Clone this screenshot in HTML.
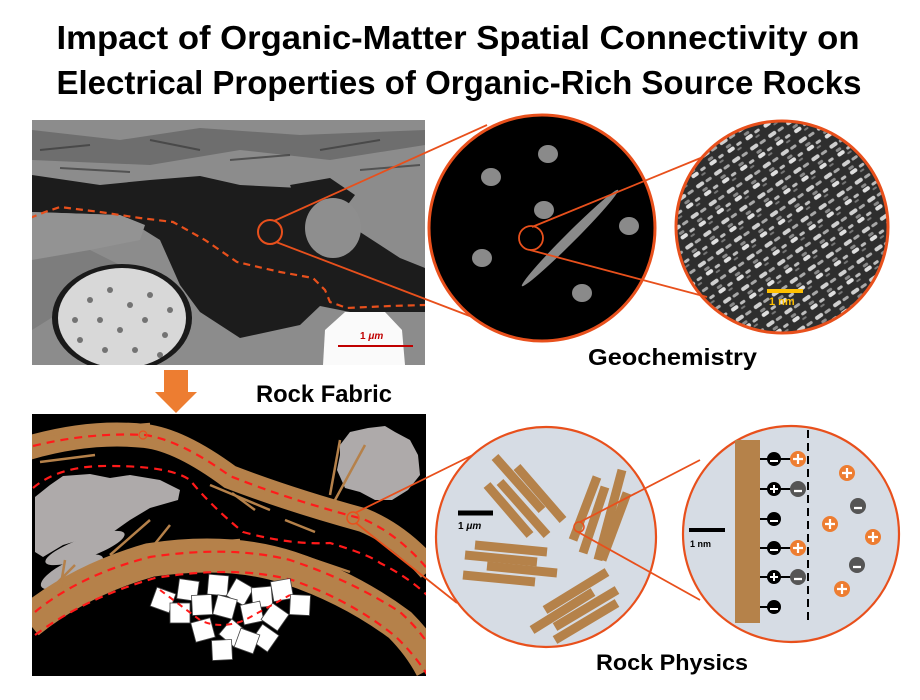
<!DOCTYPE html>
<html><head><meta charset="utf-8"><style>
html,body{margin:0;padding:0;background:#fff;width:920px;height:700px;overflow:hidden}
svg{display:block}
text{font-family:"Liberation Sans",sans-serif;font-weight:bold}
</style></head><body>
<svg width="920" height="700" viewBox="0 0 920 700" xmlns="http://www.w3.org/2000/svg">
<defs>
<pattern id="tem" width="22" height="22" patternUnits="userSpaceOnUse" patternTransform="rotate(-35)">
<rect width="22" height="22" fill="#2e2e2e"/>
<rect x="1" y="1" width="9" height="4" rx="2" fill="#d0d0d0"/>
<rect x="12" y="2" width="7" height="3" rx="1.5" fill="#a8a8a8"/>
<rect x="4" y="8" width="6" height="3" rx="1.5" fill="#8a8a8a"/>
<rect x="3" y="12" width="8" height="4" rx="2" fill="#e0e0e0"/>
<rect x="14" y="12" width="6" height="3" rx="1.5" fill="#bdbdbd"/>
<rect x="12" y="17" width="5" height="2" rx="1" fill="#777"/>
</pattern>
<clipPath id="c2"><circle cx="782" cy="227" r="106"/></clipPath>
<clipPath id="sem"><rect x="32" y="120" width="393" height="245"/></clipPath>
<clipPath id="bp"><rect x="32" y="414" width="394" height="262"/></clipPath>
</defs>

<text x="458" y="49" font-size="33" text-anchor="middle" textLength="803" lengthAdjust="spacingAndGlyphs">Impact of Organic-Matter Spatial Connectivity on</text>
<text x="459" y="94" font-size="33" text-anchor="middle" textLength="805" lengthAdjust="spacingAndGlyphs">Electrical Properties of Organic-Rich Source Rocks</text>

<g clip-path="url(#sem)">
<rect x="32" y="120" width="393" height="245" fill="#8c8c8c"/>
<path d="M32,130 L120,140 L200,128 L300,135 L425,130 L425,145 L330,160 L240,150 L150,165 L32,160Z" fill="#5a5a5a" opacity="0.6"/>
<g stroke="#3a3a3a" stroke-width="2" opacity="0.7">
<line x1="40" y1="150" x2="90" y2="145"/><line x1="150" y1="140" x2="200" y2="150"/><line x1="230" y1="160" x2="290" y2="155"/><line x1="320" y1="150" x2="380" y2="140"/><line x1="360" y1="170" x2="420" y2="165"/><line x1="60" y1="168" x2="130" y2="172"/>
</g>
<path d="M32,175 L100,185 L150,180 L200,176 L240,185 L300,188 L330,200 L360,232 L400,258 L425,268 L425,312 L350,312 L320,306 L300,325 L240,338 L200,312 L180,285 L160,240 L120,215 L32,212Z" fill="#1c1c1c"/>
<path d="M290,185 L330,178 L355,195 L340,215 L300,210Z" fill="#1c1c1c"/>
<ellipse cx="333" cy="228" rx="28" ry="30" fill="#8e8e8e"/>
<path d="M32,212 L120,215 L145,225 L140,240 L90,250 L32,260Z" fill="#939393"/>
<path d="M32,260 L90,250 L120,265 L80,300 L32,330Z" fill="#7d7d7d"/>
<ellipse cx="122" cy="318" rx="70" ry="54" fill="#1a1a1a"/>
<ellipse cx="122" cy="318" rx="64" ry="50" fill="#d8d8d8"/>
<g fill="#222" opacity="0.55">
<circle cx="90" cy="300" r="3"/><circle cx="110" cy="290" r="3"/><circle cx="130" cy="305" r="3"/><circle cx="150" cy="295" r="3"/><circle cx="100" cy="320" r="3"/><circle cx="120" cy="330" r="3"/><circle cx="145" cy="320" r="3"/><circle cx="165" cy="335" r="3"/><circle cx="80" cy="340" r="3"/><circle cx="105" cy="350" r="3"/><circle cx="135" cy="350" r="3"/><circle cx="160" cy="355" r="3"/><circle cx="75" cy="320" r="3"/><circle cx="170" cy="310" r="3"/>
</g>
<path d="M323,365 L325,330 L345,312 L385,312 L402,330 L405,365Z" fill="#fafafa"/>
<path d="M30,218 L45,212 L60,207 L100,212 L140,218 L173,222 L205,240 L237,262 L280,272 L313,278 L325,290 L330,302 L347,308 L390,306 L425,305" fill="none" stroke="#e8501c" stroke-width="2.2" stroke-dasharray="7,5"/>
<line x1="338" y1="346" x2="413" y2="346" stroke="#c00000" stroke-width="2"/>
<text x="360" y="339" font-size="10" fill="#c00000">1 <tspan font-style="italic">μm</tspan></text>
</g>

<path d="M164,370 L188,370 L188,392 L197,392 L176,413 L155,392 L164,392Z" fill="#ed7d31"/>
<text x="256" y="402" font-size="24" textLength="136" lengthAdjust="spacingAndGlyphs">Rock Fabric</text>

<g clip-path="url(#bp)">
<rect x="32" y="414" width="394" height="262" fill="#000"/>
<path d="M35,497 L50,485 L63,476 L90,474 L110,478 L130,475 L160,480 L180,490 L178,500 L150,508 L130,520 L113,532 L80,540 L63,545 L43,557 L35,552Z" fill="#aeaaaa"/>
<ellipse cx="85" cy="548" rx="42" ry="10" transform="rotate(-20 85 548)" fill="#aeaaaa"/>
<ellipse cx="72" cy="572" rx="34" ry="11" transform="rotate(-25 72 572)" fill="#aeaaaa"/>
<path d="M340,445 L350,432 L368,428 L385,426 L395,432 L410,440 L418,455 L420,475 L408,490 L392,500 L375,500 L360,492 L345,488 L337,470 L340,455Z" fill="#aeaaaa"/>
<path d="M28,448 Q90,430 145,436 Q180,440 230,477 Q290,500 363,520 Q400,535 430,570" fill="none" stroke="#b5814a" stroke-width="24"/>
<path d="M28,622 Q80,580 150,560 Q230,548 290,568 Q350,588 400,625 Q420,645 432,668" fill="none" stroke="#b5814a" stroke-width="34"/>
<g stroke="#b5814a" stroke-width="2.5">
<line x1="330" y1="495" x2="340" y2="440"/><line x1="335" y1="500" x2="365" y2="445"/><line x1="210" y1="485" x2="270" y2="510"/><line x1="232" y1="493" x2="255" y2="510"/><line x1="285" y1="520" x2="315" y2="532"/>
<line x1="110" y1="555" x2="150" y2="520"/><line x1="120" y1="560" x2="145" y2="545"/><line x1="150" y1="550" x2="170" y2="525"/><line x1="40" y1="600" x2="75" y2="565"/><line x1="60" y1="590" x2="65" y2="560"/>
<line x1="40" y1="436" x2="90" y2="430"/><line x1="100" y1="428" x2="150" y2="424"/><line x1="40" y1="462" x2="95" y2="455"/><line x1="180" y1="545" x2="240" y2="540"/><line x1="300" y1="555" x2="350" y2="572"/>
</g>
<path d="M33,446 Q90,432 145,435 Q180,440 230,476 Q290,500 363,519 Q400,535 430,572" fill="none" stroke="#ff1a1a" stroke-width="2.2" stroke-dasharray="8,6"/>
<path d="M33,488 Q60,465 110,466 Q170,466 190,480 Q210,505 243,532 Q290,545 330,543 Q370,555 380,563 Q410,578 430,598" fill="none" stroke="#ff1a1a" stroke-width="2.2" stroke-dasharray="8,6"/>
<path d="M35,612 Q80,575 150,557 Q230,545 290,560 Q350,580 400,612 Q420,630 432,650" fill="none" stroke="#ff1a1a" stroke-width="2.2" stroke-dasharray="8,6"/>
<path d="M35,635 Q85,598 155,578 Q235,565 292,580 Q350,600 395,636 Q415,655 428,676" fill="none" stroke="#ff1a1a" stroke-width="2.2" stroke-dasharray="8,6"/>
<g fill="#fff" stroke="#444" stroke-width="0.8">
<rect x="153" y="590" width="20" height="20" transform="rotate(20 163 600)"/>
<rect x="178" y="580" width="20" height="20" transform="rotate(8 188 590)"/>
<rect x="208" y="575" width="20" height="20" transform="rotate(5 218 585)"/>
<rect x="230" y="582" width="20" height="20" transform="rotate(30 240 592)"/>
<rect x="252" y="587" width="20" height="20" transform="rotate(-5 262 597)"/>
<rect x="272" y="580" width="20" height="20" transform="rotate(-10 282 590)"/>
<rect x="290" y="595" width="20" height="20" transform="rotate(3 300 605)"/>
<rect x="170" y="603" width="20" height="20"/>
<rect x="192" y="595" width="20" height="20" transform="rotate(-3 202 605)"/>
<rect x="215" y="597" width="20" height="20" transform="rotate(15 225 607)"/>
<rect x="242" y="603" width="20" height="20" transform="rotate(-12 252 613)"/>
<rect x="265" y="607" width="20" height="20" transform="rotate(35 275 617)"/>
<rect x="193" y="620" width="20" height="20" transform="rotate(-15 203 630)"/>
<rect x="223" y="623" width="20" height="20" transform="rotate(40 233 633)"/>
<rect x="255" y="628" width="20" height="20" transform="rotate(35 265 638)"/>
<rect x="237" y="631" width="20" height="20" transform="rotate(20 247 641)"/>
<rect x="212" y="640" width="20" height="20" transform="rotate(-3 222 650)"/>
</g>
<path d="M160,590 L200,620 Q220,630 245,620 L290,595" fill="none" stroke="#ff1a1a" stroke-width="2" stroke-dasharray="6,5"/>
</g>

<g stroke="#e8501c" stroke-width="1.8" fill="none">
<line x1="274" y1="221" x2="487" y2="125"/>
<line x1="276" y1="242" x2="488" y2="323"/>
<line x1="355" y1="513" x2="483" y2="450"/>
<line x1="356" y1="523" x2="457" y2="603"/>
</g>
<circle cx="270" cy="232" r="12" fill="none" stroke="#e8501c" stroke-width="2"/>
<circle cx="353" cy="518" r="6" fill="none" stroke="#e8501c" stroke-width="1.5"/>
<circle cx="143" cy="435" r="4" fill="none" stroke="#e8501c" stroke-width="1.2"/>

<circle cx="542" cy="228" r="113" fill="#000" stroke="#e8501c" stroke-width="3"/>
<g fill="#8a8a8a">
<ellipse cx="548" cy="154" rx="10" ry="9"/><ellipse cx="491" cy="177" rx="10" ry="9"/><ellipse cx="544" cy="210" rx="10" ry="9"/><ellipse cx="629" cy="226" rx="10" ry="9"/><ellipse cx="482" cy="258" rx="10" ry="9"/><ellipse cx="582" cy="293" rx="10" ry="9"/>
<ellipse cx="570" cy="238" rx="68" ry="5" transform="rotate(-45 570 238)"/>
</g>
<circle cx="782" cy="227" r="106" fill="#555"/>
<g clip-path="url(#c2)">
<rect x="670" y="115" width="230" height="230" fill="url(#tem)"/>
<rect x="767" y="289" width="36" height="4" fill="#ffc000"/>
<text x="769" y="305" font-size="11" fill="#ffc000" font-weight="normal">1 nm</text>
</g>
<circle cx="782" cy="227" r="106" fill="none" stroke="#e8501c" stroke-width="3"/>
<g stroke="#e8501c" stroke-width="1.8">
<line x1="532" y1="227" x2="703" y2="157"/>
<line x1="530" y1="250" x2="707" y2="297"/>
</g>
<circle cx="531" cy="238" r="12" fill="none" stroke="#e8501c" stroke-width="1.8"/>
<text x="588" y="365" font-size="23" textLength="169" lengthAdjust="spacingAndGlyphs">Geochemistry</text>

<circle cx="546" cy="537" r="110" fill="#d6dce4" stroke="#e8501c" stroke-width="2.2"/>
<g stroke="#b5824a" stroke-width="9">
<line x1="495" y1="457" x2="542" y2="510"/><line x1="517" y1="467" x2="563" y2="520"/><line x1="500" y1="482" x2="547" y2="535"/><line x1="487" y1="485" x2="530" y2="535"/>
<line x1="597" y1="477" x2="573" y2="540"/><line x1="622" y1="470" x2="598" y2="560"/><line x1="605" y1="487" x2="583" y2="553"/><line x1="627" y1="493" x2="602" y2="560"/>
<line x1="475" y1="545" x2="547" y2="552"/><line x1="465" y1="555" x2="537" y2="562"/><line x1="487" y1="566" x2="557" y2="573"/><line x1="463" y1="575" x2="535" y2="582"/>
<line x1="545" y1="610" x2="607" y2="572"/><line x1="532" y1="630" x2="593" y2="592"/><line x1="555" y1="627" x2="617" y2="590"/><line x1="555" y1="640" x2="617" y2="603"/>
</g>
<line x1="458" y1="513" x2="493" y2="513" stroke="#000" stroke-width="5"/>
<text x="458" y="529" font-size="10" fill="#000" font-weight="normal">1 <tspan font-style="italic">μm</tspan></text>

<circle cx="791" cy="534" r="108" fill="#d6dce4" stroke="#e8501c" stroke-width="2.2"/>
<g stroke="#e8501c" stroke-width="1.8">
<line x1="580" y1="522" x2="700" y2="460"/>
<line x1="578" y1="532" x2="700" y2="600"/>
</g>
<circle cx="579" cy="527" r="5" fill="none" stroke="#e8501c" stroke-width="1.5"/>
<rect x="735" y="440" width="25" height="183" fill="#b5824a"/>
<line x1="808" y1="430" x2="808" y2="623" stroke="#000" stroke-width="2" stroke-dasharray="8,5"/>
<line x1="689" y1="530" x2="725" y2="530" stroke="#000" stroke-width="4"/>
<text x="690" y="547" font-size="9" fill="#000">1 nm</text>
<g stroke="#000" stroke-width="2">
<line x1="760" y1="459" x2="798" y2="459"/><line x1="760" y1="489" x2="798" y2="489"/><line x1="760" y1="519" x2="774" y2="519"/><line x1="760" y1="548" x2="798" y2="548"/><line x1="760" y1="577" x2="798" y2="577"/><line x1="760" y1="607" x2="774" y2="607"/>
</g>
<g fill="#000"><circle cx="774" cy="459" r="7"/><circle cx="774" cy="489" r="7"/><circle cx="774" cy="519" r="7"/><circle cx="774" cy="548" r="7"/><circle cx="774" cy="577" r="7"/><circle cx="774" cy="607" r="7"/></g>
<g stroke="#fff" stroke-width="2">
<line x1="770" y1="461" x2="778" y2="461"/><line x1="770" y1="489" x2="778" y2="489"/><line x1="774" y1="485" x2="774" y2="493"/><line x1="770" y1="521" x2="778" y2="521"/><line x1="770" y1="550" x2="778" y2="550"/><line x1="770" y1="577" x2="778" y2="577"/><line x1="774" y1="573" x2="774" y2="581"/><line x1="770" y1="609" x2="778" y2="609"/>
</g>
<g fill="#ed7d31"><circle cx="798" cy="459" r="8"/><circle cx="798" cy="548" r="8"/><circle cx="847" cy="473" r="8"/><circle cx="830" cy="524" r="8"/><circle cx="873" cy="537" r="8"/><circle cx="842" cy="589" r="8"/></g>
<g fill="#555"><circle cx="798" cy="489" r="8"/><circle cx="798" cy="577" r="8"/><circle cx="858" cy="506" r="8"/><circle cx="857" cy="565" r="8"/></g>
<g stroke="#fff" stroke-width="2.2">
<path d="M793,459h10M798,454v10M793,548h10M798,543v10M842,473h10M847,468v10M825,524h10M830,519v10M868,537h10M873,532v10M837,589h10M842,584v10"/>
<path d="M794,491h8M794,579h8M854,508h8M853,567h8"/>
</g>
<text x="596" y="670" font-size="22" textLength="152" lengthAdjust="spacingAndGlyphs">Rock Physics</text>
</svg>
</body></html>
